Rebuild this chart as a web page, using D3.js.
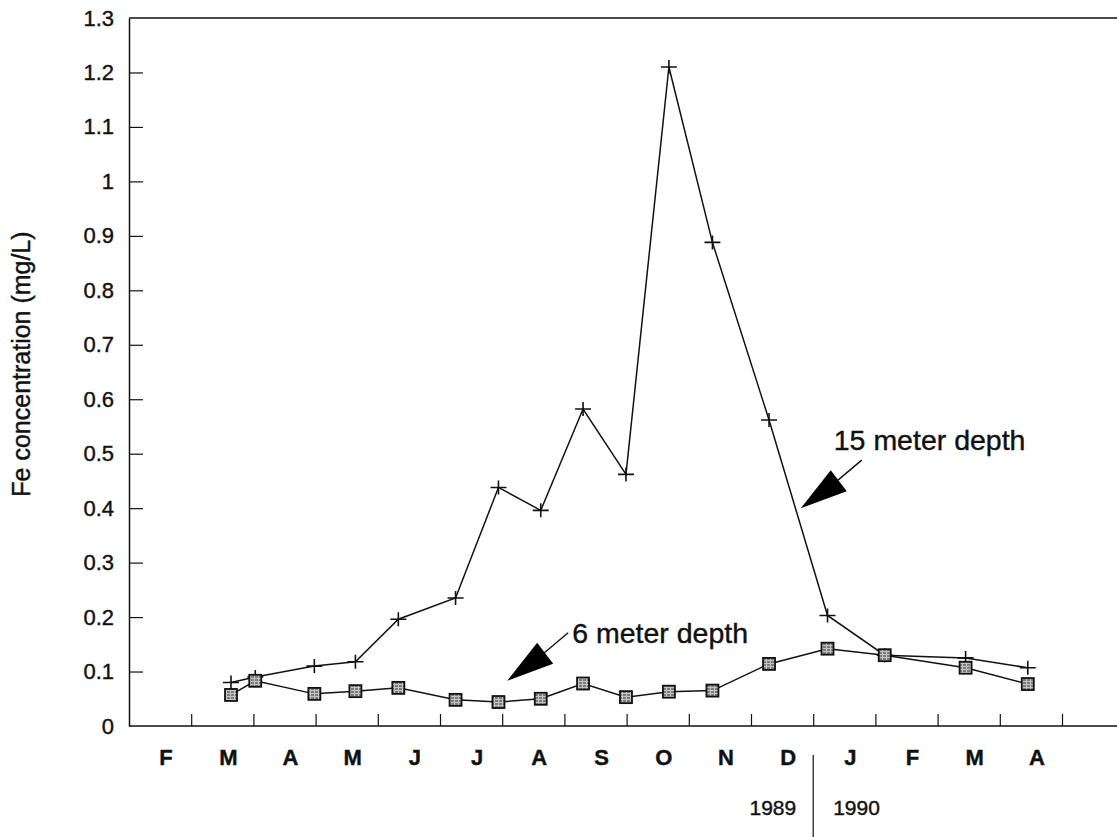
<!DOCTYPE html>
<html>
<head>
<meta charset="utf-8">
<script src="https://cdn.jsdelivr.net/npm/d3@7"></script>
<style>
  body { margin: 0; background: #fff; }
  svg { display: block; font-family: 'Liberation Sans', Arial, Helvetica, sans-serif; }
  svg text { stroke: #111; stroke-width: 0.4px; }
</style>
</head>
<body>
<svg id="chart" width="1117" height="837"></svg>
<script>
const WIDTH = 1117;
const HEIGHT = 837;

// sampling dates, as months counted from 1 Feb 1989
const sampleMonths = [1.64, 2.03, 2.98, 3.64, 4.33, 5.25, 5.94, 6.62, 7.30, 7.99, 8.68, 9.38, 10.29, 11.23, 12.15, 13.45, 14.45];
const depth15 = [0.080, 0.090, 0.110, 0.118, 0.196, 0.235, 0.438, 0.396, 0.582, 0.462, 1.210, 0.888, 0.562, 0.203, 0.130, 0.125, 0.107];
const depth6 = [0.057, 0.083, 0.059, 0.064, 0.070, 0.048, 0.044, 0.050, 0.078, 0.053, 0.063, 0.065, 0.114, 0.142, 0.130, 0.107, 0.077];
const monthLabels = ['F', 'M', 'A', 'M', 'J', 'J', 'A', 'S', 'O', 'N', 'D', 'J', 'F', 'M', 'A'];
const yTicks = [0, 0.1, 0.2, 0.3, 0.4, 0.5, 0.6, 0.7, 0.8, 0.9, 1, 1.1, 1.2, 1.3];
const yearLabels = ['1989', '1990'];
const seriesNames = ['15 meter depth', '6 meter depth'];

const x = d3.scaleLinear().domain([0, 15]).range([129, 1062]);
const y = d3.scaleLinear().domain([0, 1.3]).range([726, 18]);

const svg = d3.select('#chart');

const pattern = svg.append('defs').append('pattern')
  .attr('id', 'sq-fill')
  .attr('width', 4)
  .attr('height', 3)
  .attr('patternUnits', 'userSpaceOnUse');
pattern.append('rect').attr('width', 4).attr('height', 3).attr('fill', '#c4c4c4');
pattern.append('line')
  .attr('x1', 0).attr('x2', 4).attr('y1', 2).attr('y2', 2)
  .attr('stroke', '#333').attr('stroke-width', 1).attr('stroke-dasharray', '2,1');

// frame: top line and bottom axis run off the right edge
svg.append('line')
  .attr('x1', x(0)).attr('x2', WIDTH).attr('y1', y(1.3)).attr('y2', y(1.3))
  .attr('stroke', '#111').attr('stroke-width', 1.5);
svg.append('line')
  .attr('x1', x(0)).attr('x2', WIDTH).attr('y1', y(0)).attr('y2', y(0))
  .attr('stroke', '#111').attr('stroke-width', 1.5);

const yAxis = svg.append('g')
  .attr('transform', `translate(${x(0)},0)`)
  .call(d3.axisLeft(y)
    .tickValues(yTicks)
    .tickSize(-14)
    .tickSizeOuter(0)
    .tickPadding(15)
    .tickFormat(d => String(+d.toFixed(1))));
yAxis.select('.domain').attr('stroke', '#111').attr('stroke-width', 1.5);
yAxis.selectAll('.tick line')
  .attr('stroke', '#111').attr('stroke-width', 1.2)
  .filter(d => d === 0 || d === 1.3).remove();
yAxis.selectAll('.tick text')
  .attr('font-size', 22).attr('fill', '#111')
  .attr('font-family', "'Liberation Sans', Arial, sans-serif");

const xAxis = svg.append('g')
  .attr('transform', `translate(0,${y(0)})`)
  .call(d3.axisBottom(x)
    .tickValues(d3.range(1, 16))
    .tickSize(-12)
    .tickSizeOuter(0)
    .tickFormat(''));
xAxis.select('.domain').remove();
xAxis.selectAll('.tick line').attr('stroke', '#111').attr('stroke-width', 1.2);

svg.append('g')
  .selectAll('text')
  .data(monthLabels)
  .join('text')
  .attr('x', (d, i) => x(i + 0.5) + 6)
  .attr('y', 765)
  .attr('text-anchor', 'middle')
  .attr('font-size', 22)
  .attr('font-weight', 'bold')
  .attr('fill', '#111')
  .text(d => d);

// year split at January 1990
const jan = x(11);
svg.append('line')
  .attr('x1', jan).attr('x2', jan).attr('y1', 755).attr('y2', HEIGHT)
  .attr('stroke', '#111').attr('stroke-width', 1.2);
svg.append('text')
  .attr('x', jan - 17).attr('y', 815)
  .attr('text-anchor', 'end').attr('font-size', 21).attr('fill', '#111')
  .text(yearLabels[0]);
svg.append('text')
  .attr('x', jan + 20).attr('y', 815)
  .attr('font-size', 21).attr('fill', '#111')
  .text(yearLabels[1]);

svg.append('text')
  .attr('transform', 'translate(30,364) rotate(-90)')
  .attr('text-anchor', 'middle')
  .attr('font-size', 25)
  .attr('fill', '#111')
  .text('Fe concentration (mg/L)');

const line = d3.line()
  .x(d => x(d[0]))
  .y(d => y(d[1]));

const pts15 = sampleMonths.map((m, i) => [m, depth15[i]]);
const pts6 = sampleMonths.map((m, i) => [m, depth6[i]]);

svg.append('path')
  .datum(pts15)
  .attr('d', line)
  .attr('fill', 'none').attr('stroke', '#111').attr('stroke-width', 1.5);
svg.append('path')
  .datum(pts6)
  .attr('d', line)
  .attr('fill', 'none').attr('stroke', '#111').attr('stroke-width', 1.5);

svg.append('g')
  .selectAll('path')
  .data(pts15)
  .join('path')
  .attr('transform', d => `translate(${x(d[0])},${y(d[1])})`)
  .attr('d', 'M-8,0H8M0,-7V7')
  .attr('stroke', '#111').attr('stroke-width', 1.6);

svg.append('g')
  .selectAll('rect')
  .data(pts6)
  .join('rect')
  .attr('x', d => x(d[0]) - 6)
  .attr('y', d => y(d[1]) - 6)
  .attr('width', 12).attr('height', 12)
  .attr('fill', 'url(#sq-fill)')
  .attr('stroke', '#111').attr('stroke-width', 1.8);

// arrow callouts, tips anchored in data space
const callouts = [
  { name: seriesNames[0], month: 10.8, value: 0.40, text: [33, -58] },
  { name: seriesNames[1], month: 6.08, value: 0.083, text: [65, -38] },
];

callouts.forEach(c => {
  const tx = x(c.month);
  const ty = y(c.value);
  const g = svg.append('g').attr('transform', `translate(${tx},${ty})`);
  g.append('path')
    .attr('d', 'M0,0L30,-38L46,-17Z')
    .attr('fill', '#000');
  g.append('line')
    .attr('x1', 36).attr('y1', -27).attr('x2', 61).attr('y2', -48)
    .attr('stroke', '#111').attr('stroke-width', 1.4);
  g.append('text')
    .attr('x', c.text[0]).attr('y', c.text[1])
    .attr('font-size', 28.5)
    .attr('fill', '#111')
    .text(c.name);
});
</script>
</body>
</html>
